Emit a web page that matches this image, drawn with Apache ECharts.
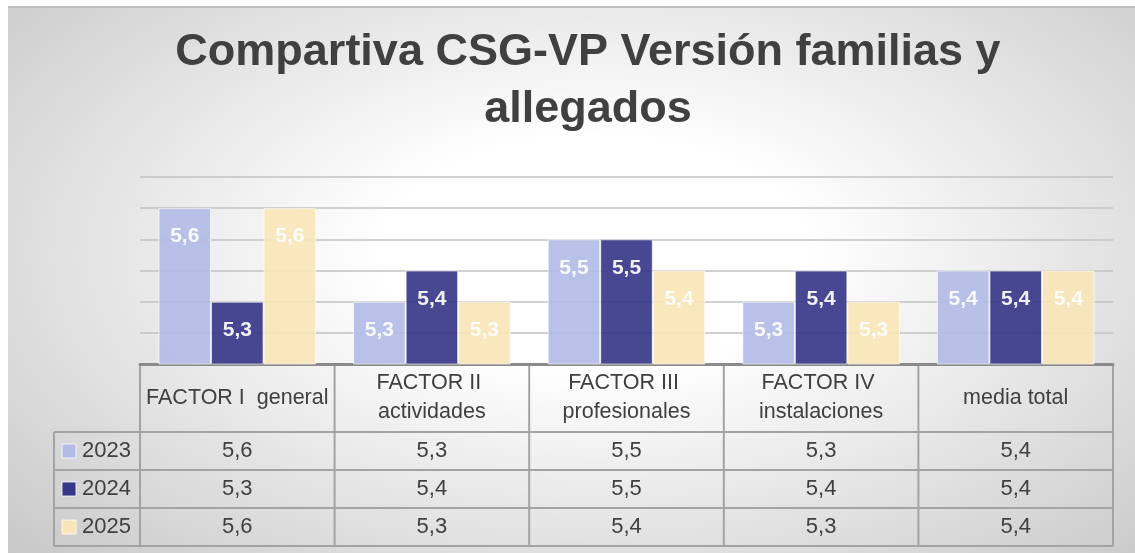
<!DOCTYPE html>
<html><head><meta charset="utf-8">
<script src="https://cdn.jsdelivr.net/npm/echarts@6/dist/echarts.min.js"></script>
<style>
html,body{margin:0;padding:0;background:#fff;}
#frame{position:absolute;left:8px;top:6px;width:1127px;height:547px;
background:radial-gradient(ellipse 75% 85% at 52% 45%, #ffffff 25%, #c4c4c4 100%);
border-top:2px solid #bdbdbd;box-sizing:border-box;}
#c{width:1127px;height:545px;}
</style></head>
<body><div id="frame"><div id="c"></div></div>
<script>
const titleText = 'Compartiva CSG-VP Versión familias y\nallegados';
const categories = ['FACTOR I  general', 'FACTOR II actividades', 'FACTOR III profesionales', 'FACTOR IV instalaciones', 'media total'];
const seriesNames = ['2023', '2024', '2025'];
const values2023 = [5.6, 5.3, 5.5, 5.3, 5.4];
const values2024 = [5.3, 5.4, 5.5, 5.4, 5.4];
const values2025 = [5.6, 5.3, 5.4, 5.3, 5.4];
const colors = ['#b3bce6', '#383889', '#f9e5b8'];
const yMin = 5.1, yMax = 5.7, yStep = 0.1;

const allValues = [values2023, values2024, values2025];
const fmt = v => v.toFixed(1).replace('.', ',');
const FONT = "'Liberation Sans', Arial, sans-serif";

const chart = echarts.init(document.getElementById('c'), null, {renderer: 'canvas'});
const option = {
  backgroundColor: 'transparent',
  animation: false,
  title: {
    text: titleText, left: 580, textAlign: 'center', top: 16, padding: 0,
    textStyle: {fontFamily: FONT, fontWeight: 'bold', fontSize: 45, color: '#404040', lineHeight: 57}
  },
  grid: {left: 132, right: 22, top: 169, bottom: 189, containLabel: false},
  xAxis: {
    type: 'category', data: categories,
    axisLine: {show: true, lineStyle: {color: '#8a8a8a', width: 3}},
    axisTick: {show: false},
    axisLabel: {
      interval: 0, margin: 34, width: 192, overflow: 'break',
      verticalAlign: 'middle',
      fontFamily: FONT, fontSize: 21.5, color: '#404040', lineHeight: 29
    }
  },
  yAxis: {
    type: 'value', min: yMin, max: yMax, interval: yStep,
    axisLabel: {show: false}, axisLine: {show: false}, axisTick: {show: false},
    splitLine: {lineStyle: {color: '#c2c2c2', width: 1.5}}
  },
  series: seriesNames.map((n, i) => ({
    name: n, type: 'bar', data: allValues[i],
    barGap: '0%', barCategoryGap: '19%',
    itemStyle: {color: colors[i], opacity: 0.92, borderColor: 'rgba(255,255,255,0.7)', borderWidth: 1},
    label: {
      show: true, position: 'insideTop', distance: 18,
      formatter: p => fmt(p.value),
      fontFamily: FONT, fontWeight: 'bold', fontSize: 21, color: '#ffffff'
    }
  }))
};
chart.setOption(option);

// Build the data table from axis scales
function buildTable() {
  const xs = categories.map((c, i) => chart.convertToPixel({xAxisIndex: 0}, i));
  const band = xs.length > 1 ? xs[1] - xs[0] : 190;
  const base = chart.convertToPixel({yAxisIndex: 0}, yMin);
  const headerH = 68, rowH = 38;
  const leftCol = xs[0] - band / 2;
  const rightCol = xs[xs.length - 1] + band / 2;
  const legendLeft = leftCol - 86;
  const rowsTop = base + headerH;
  const bottom = rowsTop + rowH * seriesNames.length;
  const lc = '#a3a3a3', lw = 2;
  const els = [];
  for (let k = 0; k <= categories.length; k++) {
    const x = leftCol + k * band;
    els.push({type: 'line', shape: {x1: x, y1: base + 1, x2: x, y2: bottom}, style: {stroke: lc, lineWidth: lw}, silent: true});
  }
  els.push({type: 'line', shape: {x1: legendLeft, y1: rowsTop, x2: legendLeft, y2: bottom}, style: {stroke: lc, lineWidth: lw}, silent: true});
  for (let r = 0; r <= seriesNames.length; r++) {
    const y = rowsTop + r * rowH;
    els.push({type: 'line', shape: {x1: legendLeft, y1: y, x2: rightCol, y2: y}, style: {stroke: lc, lineWidth: lw}, silent: true});
  }
  seriesNames.forEach((n, r) => {
    const cy = rowsTop + r * rowH + rowH / 2;
    els.push({type: 'rect', shape: {x: legendLeft + 8, y: cy - 7, width: 14, height: 14},
      style: {fill: colors[r], stroke: 'rgba(255,255,255,0.8)', lineWidth: 1}, silent: true});
    els.push({type: 'text', x: legendLeft + 28, y: cy,
      style: {text: n, fontFamily: FONT, fontSize: 22, fill: '#404040', verticalAlign: 'middle', align: 'left'}, silent: true});
    allValues[r].forEach((v, i) => {
      els.push({type: 'text', x: xs[i], y: cy,
        style: {text: fmt(v), fontFamily: FONT, fontSize: 22, fill: '#404040', verticalAlign: 'middle', align: 'center'}, silent: true});
    });
  });
  chart.setOption({graphic: {elements: els}});
}
buildTable();
</script>
</body></html>
